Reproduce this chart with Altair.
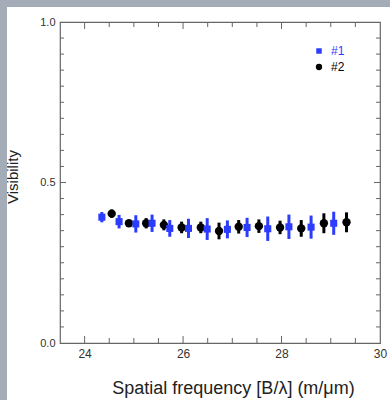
import altair as alt
import pandas as pd

# Series #1 (blue squares)
x1 = [24.35, 24.70, 25.04, 25.37, 25.73, 26.11, 26.49, 26.90, 27.30, 27.72, 28.15, 28.60, 29.06]
v1 = [0.392, 0.378, 0.371, 0.373, 0.357, 0.357, 0.355, 0.354, 0.360, 0.356, 0.362, 0.361, 0.373]
e1 = [0.016, 0.021, 0.027, 0.027, 0.026, 0.030, 0.034, 0.028, 0.030, 0.038, 0.038, 0.036, 0.036]
# Series #2 (black circles)
x2 = [24.55, 24.90, 25.25, 25.61, 25.97, 26.36, 26.73, 27.13, 27.54, 27.97, 28.40, 28.86, 29.32]
v2 = [0.403, 0.373, 0.373, 0.368, 0.360, 0.360, 0.349, 0.362, 0.364, 0.360, 0.357, 0.373, 0.376]
e2 = [0.013, 0.010, 0.016, 0.017, 0.018, 0.018, 0.026, 0.021, 0.021, 0.021, 0.026, 0.031, 0.031]

x_labels = [24, 26, 28, 30]
y_labels = [0.0, 0.5, 1.0]
x_major = [24, 26, 28]
x_minor = [24.5, 25, 25.5, 26.5, 27, 27.5, 28.5, 29, 29.5]
y_major = [0.5]
y_minor = [round(0.05 * i, 2) for i in range(1, 20) if i != 10]

W, H = 320, 321
BLUE = "#2b3cff"
FRAME = "#666666"
GRAY = "#a3acb7"

d1 = pd.DataFrame({"x": x1, "v": v1, "lo": [a - b for a, b in zip(v1, e1)], "hi": [a + b for a, b in zip(v1, e1)]})
d2 = pd.DataFrame({"x": x2, "v": v2, "lo": [a - b for a, b in zip(v2, e2)], "hi": [a + b for a, b in zip(v2, e2)]})

xs = alt.Scale(domain=[23.5, 30], nice=False, zero=False)
ys = alt.Scale(domain=[0, 1], nice=False, zero=False)

xaxis = alt.Axis(values=x_labels, format="d", ticks=False, domain=False, grid=False,
                 labelPadding=5, labelFontSize=12, labelColor="#333333", labelFont="Liberation Sans",
                 labelFlush=False,
                 title="Spatial frequency [B/λ] (m/μm)", titleFontSize=18, titleFontWeight="normal",
                 titleFont="Liberation Sans", titleColor="#222222", titleX=173, titleY=45,
                 titleBaseline="middle", titleAnchor="start", titleAlign="center")
yaxis = alt.Axis(values=y_labels, format=".1f", ticks=False, domain=False, grid=False,
                 labelPadding=5, labelFontSize=11, labelColor="#333333", labelFont="Liberation Sans",
                 labelFlush=False,
                 title="Visibility", titleFontSize=15, titleFontWeight="normal",
                 titleFont="Liberation Sans", titleColor="#222222", titleX=-48, titleY=154.5,
                 titleAngle=-90, titleBaseline="middle", titleAlign="center", titleAnchor="start")

one = alt.Data(values=[{}])
band_left = alt.Chart(one).mark_rect(color=GRAY).encode(
    x=alt.value(-60), x2=alt.value(-53), y=alt.value(-22), y2=alt.value(H + 57))
band_top = alt.Chart(one).mark_rect(color=GRAY).encode(
    x=alt.value(-60), x2=alt.value(W + 10), y=alt.value(-22), y2=alt.value(-15))

err1 = alt.Chart(d1).mark_rule(color=BLUE, strokeWidth=3).encode(
    x=alt.X("x:Q", scale=xs, axis=xaxis),
    y=alt.Y("lo:Q", scale=ys, axis=yaxis), y2="hi:Q")
err2 = alt.Chart(d2).mark_rule(color="black", strokeWidth=3).encode(
    x=alt.X("x:Q", scale=xs, axis=xaxis), y=alt.Y("lo:Q", scale=ys, axis=yaxis), y2="hi:Q")
pts1 = alt.Chart(d1).mark_square(color=BLUE, opacity=1, size=50).encode(
    x=alt.X("x:Q", scale=xs, axis=xaxis), y=alt.Y("v:Q", scale=ys, axis=yaxis))
pts2 = alt.Chart(d2).mark_circle(color="black", opacity=1, size=70).encode(
    x=alt.X("x:Q", scale=xs, axis=xaxis), y=alt.Y("v:Q", scale=ys, axis=yaxis))

def xticks(vals, ln):
    d = pd.DataFrame({"t": vals})
    b = alt.Chart(d).mark_rule(color=FRAME, strokeWidth=1)
    return (b.encode(x=alt.X("t:Q", scale=xs, axis=xaxis), y=alt.value(H), y2=alt.value(H - ln)) +
            b.encode(x=alt.X("t:Q", scale=xs, axis=xaxis), y=alt.value(0), y2=alt.value(ln)))

def yticks(vals, ln):
    d = pd.DataFrame({"t": vals})
    b = alt.Chart(d).mark_rule(color=FRAME, strokeWidth=1)
    return (b.encode(y=alt.Y("t:Q", scale=ys, axis=yaxis), x=alt.value(0), x2=alt.value(ln)) +
            b.encode(y=alt.Y("t:Q", scale=ys, axis=yaxis), x=alt.value(W), x2=alt.value(W - ln)))

leg_s = alt.Chart(one).mark_square(color=BLUE, opacity=1, size=30).encode(x=alt.value(259), y=alt.value(29))
leg_c = alt.Chart(one).mark_circle(color="black", opacity=1, size=40).encode(x=alt.value(259), y=alt.value(45))
leg_t1 = alt.Chart(one).mark_text(text="#1", color=BLUE, fontSize=12, font="Liberation Sans",
                                  align="left", baseline="middle").encode(x=alt.value(271), y=alt.value(29))
leg_t2 = alt.Chart(one).mark_text(text="#2", color="black", fontSize=12, font="Liberation Sans",
                                  align="left", baseline="middle").encode(x=alt.value(271), y=alt.value(45))

chart = alt.layer(
    band_left, band_top, err2, pts2, err1, pts1,
    xticks(x_major, 7), xticks(x_minor, 5), yticks(y_major, 6), yticks(y_minor, 4),
    leg_s, leg_c, leg_t1, leg_t2,
).properties(
    width=W, height=H,
    autosize=alt.AutoSizeParams(type="none"),
    padding={"left": 60, "top": 22, "right": 10, "bottom": 57},
    background="white",
).configure_view(stroke=FRAME, strokeWidth=1.2)

chart.save("out.html", embed_options={"renderer": "svg", "actions": False})
